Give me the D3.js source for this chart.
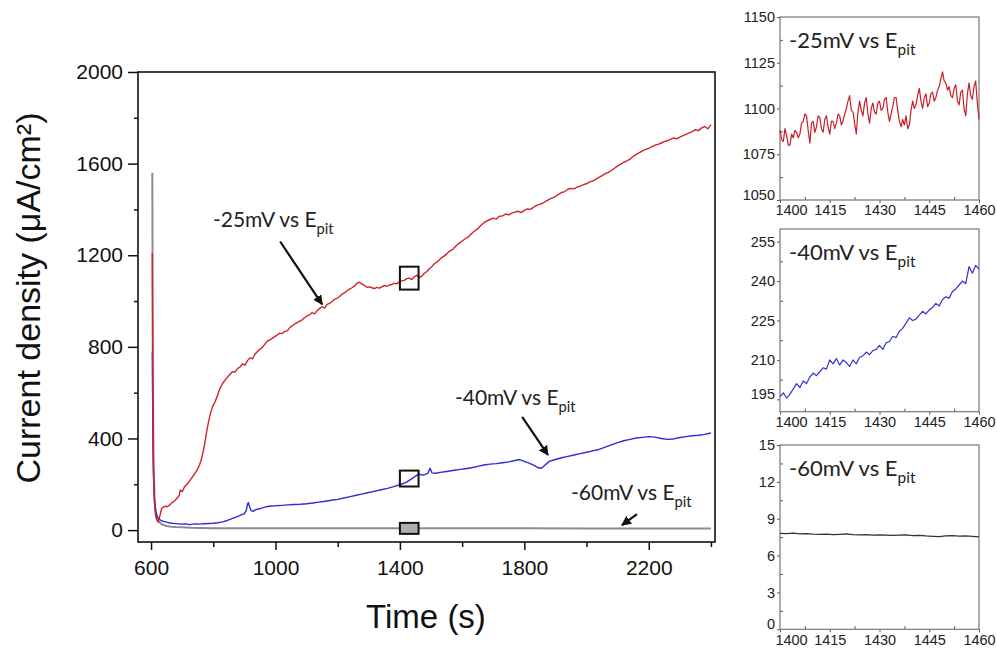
<!DOCTYPE html>
<html><head><meta charset="utf-8">
<script src="https://cdn.jsdelivr.net/npm/d3@7"></script>
<style>body{margin:0;background:#fff}svg{display:block}</style>
</head><body><svg id="c" width="997" height="650"></svg>
<script>
// ---------- DATA ----------
const redMain = [[604,1210],[606,500],[608,250],[611,120],[614,70],[618,45],[623,35],[628,60],[634,95],[640,100],[646,105],[652,102],[660,110],[668,120],[676,128],[684,140],[690,150],[694,175],[700,168],[708,190],[716,200],[724,215],[732,230],[740,245],[748,262],[756,285],[762,310],[768,345],[774,390],[780,440],[786,480],[792,515],[798,540],[806,560],[814,590],[822,620],[830,640],[838,655],[846,668],[854,680],[862,692],[870,690],[878,705],[886,712],[894,726],[902,720],[910,740],[918,752],[926,748],[934,768],[942,780],[950,790],[958,798],[966,812],[974,826],[982,830],[990,838],[998,845],[1006,852],[1014,860],[1022,858],[1030,868],[1038,870],[1046,884],[1054,892],[1062,900],[1070,906],[1078,912],[1086,918],[1094,928],[1102,935],[1110,940],[1118,950],[1126,944],[1134,958],[1142,968],[1150,975],[1158,970],[1166,985],[1174,990],[1182,998],[1190,1008],[1198,1012],[1206,1020],[1214,1030],[1222,1036],[1230,1045],[1238,1052],[1246,1058],[1254,1066],[1262,1078],[1270,1082],[1278,1074],[1286,1068],[1294,1060],[1302,1062],[1310,1058],[1318,1054],[1326,1060],[1334,1056],[1342,1062],[1350,1068],[1358,1064],[1366,1070],[1374,1072],[1382,1078],[1390,1075],[1398,1084],[1406,1088],[1414,1090],[1422,1098],[1430,1100],[1438,1094],[1446,1106],[1454,1112],[1462,1104],[1470,1108],[1478,1120],[1486,1128],[1494,1140],[1502,1150],[1510,1162],[1518,1170],[1526,1178],[1534,1190],[1542,1196],[1550,1205],[1560,1218],[1570,1226],[1580,1240],[1590,1252],[1600,1262],[1610,1272],[1620,1280],[1630,1294],[1640,1306],[1650,1316],[1660,1330],[1670,1342],[1680,1350],[1690,1356],[1700,1362],[1710,1358],[1720,1370],[1730,1372],[1740,1380],[1750,1376],[1760,1384],[1770,1388],[1780,1392],[1790,1386],[1800,1396],[1810,1402],[1820,1400],[1830,1410],[1840,1418],[1850,1422],[1860,1428],[1870,1436],[1880,1444],[1890,1450],[1900,1456],[1910,1466],[1920,1474],[1930,1478],[1940,1488],[1950,1492],[1960,1490],[1970,1498],[1980,1502],[1990,1508],[2000,1512],[2010,1520],[2020,1524],[2030,1532],[2040,1540],[2050,1548],[2060,1556],[2070,1562],[2080,1570],[2090,1580],[2100,1590],[2110,1598],[2120,1606],[2130,1612],[2140,1620],[2150,1632],[2160,1640],[2170,1648],[2180,1656],[2190,1662],[2200,1666],[2210,1674],[2220,1680],[2230,1684],[2240,1690],[2250,1696],[2260,1700],[2270,1706],[2280,1712],[2290,1708],[2300,1716],[2310,1722],[2320,1728],[2330,1734],[2340,1740],[2350,1748],[2360,1744],[2370,1756],[2380,1762],[2390,1752],[2400,1770]];

const blueMain = [[604,780],[606,400],[608,220],[611,130],[614,90],[618,65],[624,50],[632,42],[640,38],[650,35],[665,30],[680,28],[695,26],[710,27],[725,24],[740,27],[755,26],[770,28],[785,29],[800,30],[815,32],[830,36],[845,42],[860,50],[875,58],[890,66],[900,72],[906,85],[910,112],[913,120],[917,100],[922,85],[928,82],[935,88],[945,92],[955,96],[965,100],[975,103],[985,105],[1000,106],[1020,108],[1040,110],[1060,112],[1080,113],[1100,115],[1120,118],[1140,122],[1160,126],[1180,130],[1200,134],[1220,140],[1240,146],[1260,152],[1280,158],[1300,164],[1320,170],[1340,176],[1360,182],[1380,190],[1400,198],[1420,208],[1440,226],[1460,244],[1475,240],[1490,248],[1497,270],[1503,250],[1515,248],[1530,252],[1550,256],[1570,260],[1590,264],[1610,268],[1630,272],[1650,278],[1670,284],[1690,288],[1710,290],[1730,294],[1750,298],[1770,304],[1785,308],[1800,300],[1815,292],[1830,284],[1845,272],[1855,270],[1865,282],[1880,300],[1900,308],[1920,316],[1940,322],[1960,328],[1980,334],[2000,340],[2020,346],[2040,352],[2060,362],[2080,372],[2100,382],[2120,390],[2140,396],[2160,402],[2180,405],[2200,408],[2220,406],[2240,400],[2260,396],[2280,398],[2300,404],[2320,408],[2340,412],[2360,414],[2380,418],[2400,424]];

const blackMain = [[604,1560],[606,600],[608,300],[611,150],[614,90],[618,55],[624,38],[632,28],[640,22],[650,18],[665,15],[680,13],[700,12],[730,10],[760,9],[800,8.5],[900,8],[1000,8],[1200,8],[1400,7.8],[1600,7.6],[1800,7.5],[2000,7.4],[2200,7.3],[2400,7.3]];

const redInset = [1088,1083,1082,1089,1085,1080,1080,1086,1084,1088,1087,1084,1086,1092,1093,1097,1096,1088,1081,1092,1093,1087,1090,1096,1095,1089,1087,1094,1096,1090,1086,1093,1093,1089,1092,1097,1096,1091,1093,1097,1100,1104,1107,1099,1098,1092,1086,1098,1104,1099,1096,1103,1106,1097,1092,1100,1103,1098,1097,1103,1104,1099,1100,1105,1106,1098,1093,1097,1101,1106,1106,1099,1093,1090,1094,1091,1096,1089,1091,1099,1104,1100,1102,1107,1111,1104,1100,1106,1108,1101,1103,1108,1109,1104,1106,1110,1112,1116,1120,1115,1114,1110,1112,1107,1106,1111,1113,1104,1102,1109,1110,1100,1096,1108,1114,1107,1105,1112,1115,1103,1094];
const blueInset = [196,197.5,195.5,197,199,201,199.5,202,201,203.5,205,204,205.5,207,206.5,210,208.5,210.5,208,210,209,207.5,210,208.5,211,211.5,213,212,213.5,214,215.5,214,216.5,217,219,218.5,221,222,224,226,225,225.5,227,228.5,227.5,229,230,231.5,230.5,233,234,233.5,236,237,238.5,240,239,245.5,243,246,244.5];
const blackInset = [7.80,7.78,7.82,7.76,7.79,7.74,7.72,7.75,7.70,7.73,7.76,7.71,7.68,7.70,7.66,7.69,7.67,7.64,7.66,7.68,7.63,7.65,7.60,7.57,7.55,7.60,7.62,7.58,7.61,7.56,7.52];

const xMajor = [600,1000,1400,1800,2200];
const xMinor = [800,1200,1600,2000,2400];
const yMajor = [0,400,800,1200,1600,2000];
const yMinor = [200,600,1000,1400,1800];
const insetX = [1400,1415,1430,1445,1460];
const insetXMinor = [1407.5,1422.5,1437.5,1452.5];
const insetRange = [1400,1460];
const insetYTicks = [[1050,1075,1100,1125,1150],[195,210,225,240,255],[0,3,6,9,12,15]];
const insetYDomains = [[1050,1150],[190.3,259.8],[0,15]];
const labels = ["-25mV vs E","-40mV vs E","-60mV vs E"];
const colors = ["#d02428","#2c2cd8","#8c8c8c"];
const insetColors = ["#c81e2a","#3434cc","#333333"];
// annotations in data units: [textT, textV, arrowFromT, fromV, toT, toV]
const annots = [[799,1322,1015,1260,1150,985],[1577,547,1793,494,1876,328],[1950,131,2162,70,2114,22]];

// ---------- DRAW ----------
const svg = d3.select("#c");
svg.append("rect").attr("width",997).attr("height",650).attr("fill","#fff");
const defs = svg.append("defs");
defs.append("marker").attr("id","ah").attr("viewBox","0 0 10 10").attr("refX",9).attr("refY",5)
  .attr("markerWidth",4.5).attr("markerHeight",4.5).attr("orient","auto")
  .append("path").attr("d","M0,0L10,5L0,10z").attr("fill","#111");
defs.append("clipPath").attr("id","mc").append("rect").attr("x",138).attr("y",72).attr("width",577).attr("height",470);

const x = d3.scaleLinear().domain([558,2413]).range([138,715]);
const y = d3.scaleLinear().domain([-52,2000]).range([542,72]);
const AX = "Liberation Sans, Arial, sans-serif";
const ANN = "Lato, 'Open Sans', sans-serif";

function styleAxis(g, fs){
  g.select(".domain").remove();
  g.selectAll("line").attr("stroke","#111").attr("stroke-width",1.5);
  g.selectAll("text").attr("font-family",AX).attr("font-size",fs).attr("fill","#111");
}
// main axes
svg.append("g").attr("transform","translate(0,542)")
  .call(d3.axisBottom(x).tickValues(xMajor).tickSize(8).tickPadding(10).tickFormat(d3.format("d")))
  .call(g=>styleAxis(g,21));
svg.append("g").attr("transform","translate(0,542)")
  .call(d3.axisBottom(x).tickValues(xMinor).tickSize(5).tickFormat(""))
  .call(g=>styleAxis(g,21));
svg.append("g").attr("transform","translate(138,0)")
  .call(d3.axisLeft(y).tickValues(yMajor).tickSize(10).tickPadding(5).tickFormat(d3.format("d")))
  .call(g=>styleAxis(g,21));
svg.append("g").attr("transform","translate(138,0)")
  .call(d3.axisLeft(y).tickValues(yMinor).tickSize(4).tickFormat(""))
  .call(g=>styleAxis(g,21));
svg.append("rect").attr("x",138).attr("y",72).attr("width",577).attr("height",470)
  .attr("fill","none").attr("stroke","#111").attr("stroke-width",1.6);

svg.append("text").attr("x",426).attr("y",628).attr("text-anchor","middle")
  .attr("font-family",AX).attr("font-size",33).attr("fill","#111").text("Time (s)");
svg.append("text").attr("transform","translate(40,298) rotate(-90)").attr("text-anchor","middle")
  .attr("font-family",AX).attr("font-size",34).attr("fill","#111").text("Current density (μA/cm²)");

const line = d3.line().x(d=>x(d[0])).y(d=>y(d[1]));
const mg = svg.append("g").attr("clip-path","url(#mc)");
[[blackMain,2],[blueMain,1.4],[redMain,1.4]].forEach(([data,w])=>{
  const idx = data===redMain?0:data===blueMain?1:2;
  mg.append("path").datum(data).attr("d",line).attr("fill","none")
    .attr("stroke",colors[idx]).attr("stroke-width",w).attr("stroke-linejoin","round");
});

// boxes marking inset regions
insetYDomains.forEach((dom,i)=>{
  const y0 = y(dom[1]), y1 = y(dom[0]);
  let h = y1-y0, cy = (y0+y1)/2;
  h = Math.max(h, 11);
  svg.append("rect").attr("x",x(insetRange[0])).attr("y",cy-h/2)
    .attr("width",x(insetRange[1])-x(insetRange[0])).attr("height",h)
    .attr("fill", i===2?"#adadad":"none").attr("stroke","#111").attr("stroke-width",2);
});

// annotations
function label(g, xx, yy, txt, fs){
  const t = g.append("text").attr("x",xx).attr("y",yy).attr("font-family",ANN)
    .attr("font-size",fs).attr("fill","#222");
  t.append("tspan").text(txt);
  t.append("tspan").attr("dy",fs*0.32).attr("font-size",fs*0.7).text("pit");
}
annots.forEach((a,i)=>{
  label(svg, x(a[0]), y(a[1]), labels[i], 21);
  svg.append("line").attr("x1",x(a[2])).attr("y1",y(a[3])).attr("x2",x(a[4])).attr("y2",y(a[5]))
    .attr("stroke","#111").attr("stroke-width",2.2).attr("marker-end","url(#ah)");
});

// insets
const panels = [[17,200],[229,411.7],[445,629.3]];
const insetData = [redInset, blueInset, blackInset];
const xi = d3.scaleLinear().domain(insetRange).range([780,979]);
panels.forEach((p,i)=>{
  const yi = d3.scaleLinear().domain(insetYDomains[i]).range([p[1],p[0]]);
  const g = svg.append("g");
  const minorY = d3.range(0, insetYTicks[i].length-1).map(k=>(insetYTicks[i][k]+insetYTicks[i][k+1])/2);
  const ax = g.append("g").attr("transform",`translate(0,${p[1]})`)
    .call(d3.axisBottom(xi).tickValues(insetX).tickSize(3).tickPadding(2).tickFormat(d3.format("d")));
  ax.select(".domain").remove();
  ax.selectAll("line").attr("stroke","#555");
  ax.selectAll("text").attr("font-family",AX).attr("font-size",14.5).attr("fill","#222");
  ax.selectAll("text").filter(d=>d===insetRange[0]).attr("dx",11);
  const axm = g.append("g").attr("transform",`translate(0,${p[1]})`)
    .call(d3.axisBottom(xi).tickValues(insetXMinor).tickSize(-3).tickFormat(""));
  axm.select(".domain").remove(); axm.selectAll("line").attr("stroke","#555");
  const ay = g.append("g").attr("transform","translate(780,0)")
    .call(d3.axisLeft(yi).tickValues(insetYTicks[i]).tickSize(3).tickPadding(2).tickFormat(d3.format("d")));
  ay.select(".domain").remove();
  ay.selectAll("line").attr("stroke","#555");
  ay.selectAll("text").attr("font-family",AX).attr("font-size",14.5).attr("fill","#222");
  ay.selectAll("text").filter(d=>d===insetYTicks[i][0]).attr("dy","-0.05em");
  const aym = g.append("g").attr("transform","translate(780,0)")
    .call(d3.axisLeft(yi).tickValues(minorY).tickSize(-3).tickFormat(""));
  aym.select(".domain").remove(); aym.selectAll("line").attr("stroke","#555");
  g.append("rect").attr("x",780).attr("y",p[0]).attr("width",199).attr("height",p[1]-p[0])
    .attr("fill","none").attr("stroke","#777").attr("stroke-width",1.2);
  const data = insetData[i];
  const n = data.length;
  const li = d3.line().x((d,k)=>xi(insetRange[0]+k*(insetRange[1]-insetRange[0])/(n-1))).y(d=>yi(d));
  g.append("path").datum(data).attr("d",li).attr("fill","none")
    .attr("stroke",insetColors[i]).attr("stroke-width",1.2).attr("stroke-linejoin","round");
  label(g, 789, p[0]+31, labels[i], 22);
});
</script></body></html>
